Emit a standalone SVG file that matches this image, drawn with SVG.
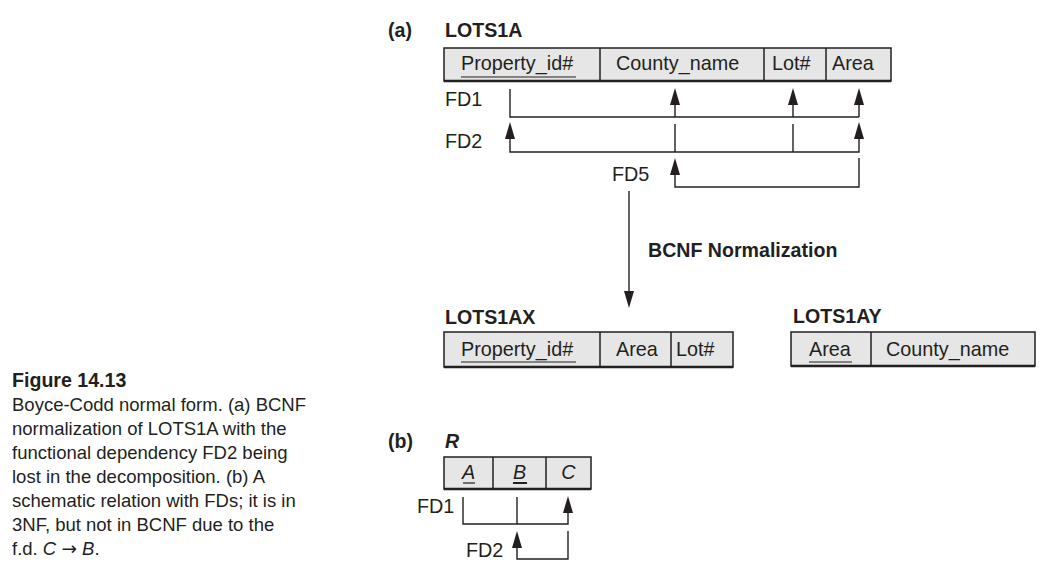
<svg xmlns="http://www.w3.org/2000/svg" width="1048" height="581" viewBox="0 0 1048 581">
<style>
text{font-family:"Liberation Sans",Arial,sans-serif;fill:#231f20}
.t{font-size:19.8px}
.b{font-size:19.6px;font-weight:bold}
.cap{font-size:18.5px}
.box{fill:#e6e6e6;stroke:#231f20;stroke-width:1.5}
.div{stroke:#231f20;stroke-width:1.5}
.bot{stroke:#231f20;stroke-width:2.5}
.ln{fill:none;stroke:#231f20;stroke-width:1.4}
.ul{stroke:#231f20;stroke-width:1.2}
.ah{fill:#231f20}
</style>
<defs>
<path id="up" class="ah" d="M0,0 L-5,17 L5,17 Z"/>
<path id="down" class="ah" d="M0,0 L-5,-17 L5,-17 Z"/>
</defs>
<rect width="1048" height="581" fill="#ffffff"/>

<g id="labels">
<text class="b" x="388" y="37">(a)</text>
<text class="b" x="388" y="448">(b)</text>
</g>

<g id="LOTS1A">
<text class="b" x="445" y="37">LOTS1A</text>
<rect class="box" x="444" y="48" width="447" height="33"/>
<line class="bot" x1="444" y1="81" x2="891" y2="81"/>
<line class="div" x1="600" y1="48" x2="600" y2="81"/>
<line class="div" x1="764" y1="48" x2="764" y2="81"/>
<line class="div" x1="826" y1="48" x2="826" y2="81"/>
<text class="t" x="461" y="70">Property_id#</text>
<line class="ul" x1="461" y1="77" x2="576" y2="77"/>
<text class="t" x="616" y="70">County_name</text>
<text class="t" x="772" y="70">Lot#</text>
<text class="t" x="832" y="70">Area</text>
<text class="t" x="445" y="106">FD1</text>
<text class="t" x="445" y="148">FD2</text>
<text class="t" x="612" y="181">FD5</text>
</g>

<g id="connectors">
<path class="ln" d="M510,89 V117 H859"/>
<line class="ln" x1="675" y1="117" x2="675" y2="102"/>
<line class="ln" x1="793" y1="117" x2="793" y2="102"/>
<line class="ln" x1="859" y1="117" x2="859" y2="102"/>
<use href="#up" x="675" y="88"/>
<use href="#up" x="793" y="88"/>
<use href="#up" x="859" y="88"/>

<path class="ln" d="M510,136 V152 H859 V136"/>
<line class="ln" x1="675" y1="124" x2="675" y2="152"/>
<line class="ln" x1="793" y1="124" x2="793" y2="152"/>
<use href="#up" x="510" y="122"/>
<use href="#up" x="859" y="122"/>

<path class="ln" d="M675,172 V187 H859 V158"/>
<use href="#up" x="675" y="158"/>

<line class="ln" x1="629" y1="191" x2="629" y2="294"/>
<use href="#down" x="629" y="308"/>

<path class="ln" d="M463,497 V524 H568 V510"/>
<line class="ln" x1="517" y1="497" x2="517" y2="524"/>
<use href="#up" x="568" y="496"/>

<path class="ln" d="M517,545 V559 H568 V531"/>
<use href="#up" x="517" y="531"/>
</g>

<g id="bcnf-label">
<text class="b" x="648" y="257">BCNF Normalization</text>
</g>

<g id="LOTS1AX">
<text class="b" x="445" y="324">LOTS1AX</text>
<rect class="box" x="444" y="332" width="289" height="35"/>
<line class="bot" x1="444" y1="367" x2="733" y2="367"/>
<line class="div" x1="600" y1="332" x2="600" y2="367"/>
<line class="div" x1="671" y1="332" x2="671" y2="367"/>
<text class="t" x="461" y="356">Property_id#</text>
<line class="ul" x1="461" y1="362" x2="576" y2="362"/>
<text class="t" x="616" y="356">Area</text>
<text class="t" x="676" y="356">Lot#</text>
</g>

<g id="LOTS1AY">
<text class="b" x="793" y="323">LOTS1AY</text>
<rect class="box" x="791" y="332" width="244" height="34"/>
<line class="bot" x1="791" y1="366" x2="1035" y2="366"/>
<line class="div" x1="871" y1="332" x2="871" y2="366"/>
<text class="t" x="809" y="356">Area</text>
<line class="ul" x1="809" y1="362" x2="852" y2="362"/>
<text class="t" x="886" y="356">County_name</text>
</g>

<g id="R">
<text class="b" x="445" y="448" font-style="italic">R</text>
<rect class="box" x="444" y="457" width="147" height="32"/>
<line class="bot" x1="444" y1="489" x2="591" y2="489"/>
<line class="div" x1="493" y1="457" x2="493" y2="489"/>
<line class="div" x1="546" y1="457" x2="546" y2="489"/>
<text class="t" x="468.5" y="479" text-anchor="middle" font-style="italic">A</text>
<line class="ul" x1="463" y1="483" x2="475" y2="483"/>
<text class="t" x="519.5" y="479" text-anchor="middle" font-style="italic">B</text>
<line class="ul" x1="513" y1="483" x2="527" y2="483" style="stroke-width:2"/>
<text class="t" x="568.5" y="479" text-anchor="middle" font-style="italic">C</text>
<text class="t" x="417" y="513">FD1</text>
<text class="t" x="466" y="557">FD2</text>
</g>

<g id="caption">
<text class="b" x="12" y="387">Figure 14.13</text>
<text class="cap" x="12" y="411">Boyce-Codd normal form. (a) BCNF</text>
<text class="cap" x="12" y="435">normalization of LOTS1A with the</text>
<text class="cap" x="12" y="459">functional dependency FD2 being</text>
<text class="cap" x="12" y="483">lost in the decomposition. (b) A</text>
<text class="cap" x="12" y="507">schematic relation with FDs; it is in</text>
<text class="cap" x="12" y="531">3NF, but not in BCNF due to the</text>
<text class="cap" x="12" y="555">f.d. <tspan font-style="italic">C</tspan> <tspan font-family="DejaVu Sans, sans-serif">→</tspan> <tspan font-style="italic">B</tspan>.</text>
</g>
</svg>
